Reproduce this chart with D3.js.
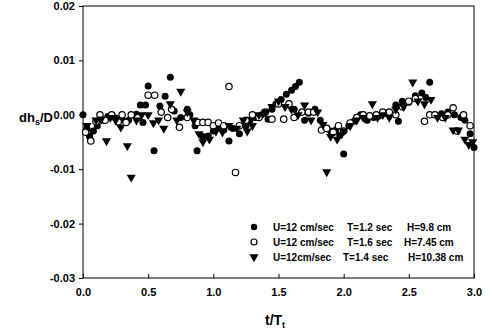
<!DOCTYPE html>
<html><head><meta charset="utf-8">
<script src="https://cdn.jsdelivr.net/npm/d3@7"></script>
<style>body{margin:0;background:#fff}svg{display:block}text{font-family:"Liberation Sans",Arial,sans-serif}</style>
</head><body>
<script>
// data: [t/Tt, dhs/D x 1000]
const filled = [[0.00,0.0],[0.03,-2.5],[0.05,-4.0],[0.08,-3.0],[0.11,-2.0],[0.15,-1.0],[0.19,-0.3],[0.25,-0.6],[0.30,-0.8],[0.35,-1.0],[0.41,0.1],[0.44,1.8],[0.48,1.8],[0.50,5.3],[0.46,-1.4],[0.545,-6.6],[0.59,1.6],[0.63,3.4],[0.67,6.9],[0.70,0.7],[0.75,-0.5],[0.80,1.0],[0.82,0.0],[0.86,-2.0],[0.875,-6.6],[0.92,-4.0],[0.96,-3.9],[1.00,-3.0],[1.04,-2.0],[1.08,-2.8],[1.12,-4.8],[1.15,-2.5],[1.20,-3.5],[1.25,-2.0],[1.28,-1.0],[1.32,-0.5],[1.37,0.0],[1.42,-0.8],[1.45,1.0],[1.48,2.0],[1.52,2.8],[1.56,3.8],[1.60,4.5],[1.63,5.2],[1.66,6.0],[1.62,1.0],[1.70,-1.0],[1.73,0.3],[1.78,1.0],[1.82,-1.0],[1.86,-2.5],[1.90,-3.0],[1.94,-2.8],[1.97,-3.8],[2.00,-7.2],[2.04,-2.0],[2.08,-1.2],[2.13,0.0],[2.18,-1.0],[2.23,-0.5],[2.27,-0.2],[2.32,0.3],[2.42,-1.2],[2.40,1.8],[2.45,2.5],[2.50,2.3],[2.55,3.5],[2.60,4.0],[2.63,3.2],[2.66,6.0],[2.70,0.0],[2.75,0.2],[2.80,0.5],[2.85,0.0],[2.90,-0.5],[2.93,-1.0],[2.97,-3.5],[3.00,-6.0]];
const open = [[0.02,-3.2],[0.06,-4.8],[0.10,-1.3],[0.13,0.0],[0.17,-1.0],[0.22,0.0],[0.27,-1.3],[0.30,0.0],[0.33,-1.4],[0.37,0.0],[0.42,-0.5],[0.50,3.6],[0.55,3.6],[0.60,0.5],[0.65,-0.5],[0.68,1.0],[0.74,-2.3],[0.80,-0.5],[0.88,-1.4],[0.92,-1.4],[0.96,-1.4],[1.00,-2.0],[1.04,-1.5],[1.08,-2.0],[1.12,5.2],[1.17,-10.6],[1.20,-2.0],[1.25,-1.0],[1.30,0.0],[1.35,-0.5],[1.40,0.5],[1.45,-0.8],[1.50,2.0],[1.54,-0.8],[1.58,2.0],[1.62,-0.5],[1.68,0.5],[1.73,0.5],[1.77,0.5],[1.83,-2.8],[1.87,-2.5],[1.92,-3.2],[1.96,-2.0],[2.00,-3.0],[2.05,-1.5],[2.10,-0.5],[2.15,0.0],[2.20,-0.2],[2.25,0.0],[2.30,0.5],[2.35,0.5],[2.40,0.0],[2.45,1.5],[2.50,2.5],[2.55,3.0],[2.62,-1.2],[2.66,0.0],[2.70,0.0],[2.76,-0.5],[2.80,0.0],[2.84,1.3],[2.87,-3.0],[2.92,0.0],[2.97,-2.0]];
const tri = [[0.03,-2.0],[0.07,-3.0],[0.10,-1.0],[0.14,-0.8],[0.18,-4.8],[0.21,-0.5],[0.25,-1.0],[0.29,-2.3],[0.34,-5.7],[0.37,-11.5],[0.41,-1.0],[0.45,0.0],[0.50,0.0],[0.54,-1.5],[0.58,-1.0],[0.62,-2.5],[0.67,2.0],[0.72,-1.0],[0.75,4.3],[0.80,0.5],[0.85,-1.0],[0.89,-3.5],[0.92,-5.0],[0.97,-4.5],[1.02,-3.0],[1.07,-3.2],[1.12,-2.0],[1.18,-2.5],[1.23,-1.0],[1.26,-3.0],[1.30,-2.0],[1.35,0.0],[1.40,0.5],[1.45,1.5],[1.50,2.5],[1.55,1.5],[1.60,1.0],[1.65,0.0],[1.70,1.8],[1.75,-1.0],[1.80,0.5],[1.84,-1.8],[1.87,-10.5],[1.90,-4.0],[1.95,-4.5],[2.00,-3.0],[2.05,-2.0],[2.10,-1.0],[2.15,-0.5],[2.22,2.0],[2.26,-0.5],[2.30,0.0],[2.35,-0.5],[2.40,1.0],[2.46,1.5],[2.53,6.0],[2.57,2.5],[2.62,2.0],[2.67,2.8],[2.72,-0.5],[2.78,-0.5],[2.84,-2.8],[2.88,-2.8],[2.93,-4.5],[2.96,-5.5],[2.99,-5.0]];
const xTicks = [0.0,0.5,1.0,1.5,2.0,2.5,3.0];
const yTicks = [0.02,0.01,0.00,-0.01,-0.02,-0.03];
const legendLabels = [["U=12 cm/sec","T=1.2 sec","H=9.8 cm"],["U=12 cm/sec","T=1.6 sec","H=7.45 cm"],["U=12cm/sec","T=1.4 sec","H=10.38 cm"]];

const W=489,H=333, L=83, R=474, T=6, B=278;
const svg=d3.select("body").append("svg").attr("width",W).attr("height",H);
const x=d3.scaleLinear().domain([0,3]).range([L,R]);
const y=d3.scaleLinear().domain([-0.03,0.02]).range([B,T]);

svg.append("rect").attr("x",L).attr("y",T).attr("width",R-L).attr("height",B-T).attr("fill","none").attr("stroke","#000").attr("stroke-width",1);

const fy=d=>d3.format(".2f")(d).replace("\u2212","-");
const ya=svg.append("g").attr("transform",`translate(${L},0)`).call(d3.axisLeft(y).tickValues(yTicks).tickFormat(fy).tickSize(4).tickSizeOuter(0));
ya.select(".domain").remove();
ya.selectAll("text").attr("font-size",11).attr("font-weight","bold").attr("font-family","Liberation Sans, Arial, sans-serif").attr("dx",-1);
const xa=svg.append("g").attr("transform",`translate(0,${B})`).call(d3.axisBottom(x).tickValues(xTicks).tickFormat(d3.format(".1f")).tickSize(-4).tickSizeOuter(0));
xa.select(".domain").remove();
xa.selectAll("text").attr("font-size",11).attr("font-weight","bold").attr("font-family","Liberation Sans, Arial, sans-serif").attr("y",10);

const sc=v=>y(v/1000);
const g=svg.append("g");
g.selectAll(".f").data(filled).join("circle").attr("cx",d=>x(d[0])).attr("cy",d=>sc(d[1])).attr("r",3.5).attr("fill","#000");
g.selectAll(".o").data(open).join("circle").attr("cx",d=>x(d[0])).attr("cy",d=>sc(d[1])).attr("r",3.2).attr("fill","#fff").attr("stroke","#000").attr("stroke-width",1.2);
const triPath=d3.symbol().type(d3.symbolTriangle).size(36)();
g.selectAll(".t").data(tri).join("path").attr("d",triPath).attr("transform",d=>`translate(${x(d[0])},${sc(d[1])}) rotate(180)`).attr("fill","#000");

const ly=[227,242,257];
const lg=svg.append("g");
lg.append("circle").attr("cx",254).attr("cy",ly[0]).attr("r",3.2).attr("fill","#000");
lg.append("circle").attr("cx",254).attr("cy",ly[1]).attr("r",3).attr("fill","#fff").attr("stroke","#000").attr("stroke-width",1.2);
lg.append("path").attr("d",triPath).attr("transform",`translate(254,${ly[2]}) rotate(180)`).attr("fill","#000");
const cols=[[273,347,407],[273,347,404],[273,343,408]];
legendLabels.forEach((row,i)=>row.forEach((s,j)=>{
  lg.append("text").attr("x",cols[i][j]).attr("y",ly[i]+4).attr("font-size",10).attr("font-weight","bold").text(s);
}));

const yt=svg.append("text").attr("x",19).attr("y",122).attr("font-size",13).attr("font-weight","bold");
yt.append("tspan").text("dh");
yt.append("tspan").attr("font-size",9).attr("dy",3).text("s");
yt.append("tspan").attr("dy",-3).text("/D");
const xt=svg.append("text").attr("x",265).attr("y",325).attr("font-size",14).attr("font-weight","bold");
xt.append("tspan").text("t/T");
xt.append("tspan").attr("font-size",9).attr("dy",3).text("t");
</script>
</body></html>
